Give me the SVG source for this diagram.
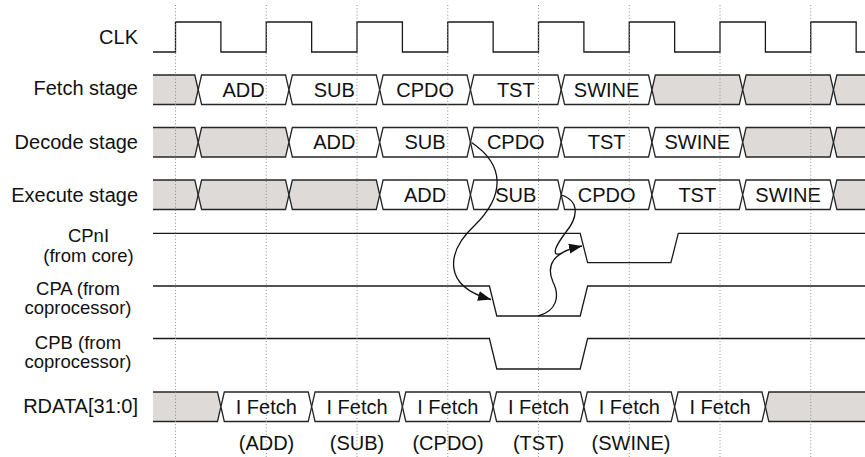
<svg xmlns="http://www.w3.org/2000/svg" xmlns:xlink="http://www.w3.org/1999/xlink" width="865" height="457" viewBox="0 0 865 457">
<style>
text{font-family:"Liberation Sans",Arial,sans-serif;font-size:20px;fill:#111}
.lbl{text-anchor:end}
.mid{text-anchor:middle}
.two{font-size:18.5px;text-anchor:middle}
.bus{stroke:#262626;stroke-width:1.3;stroke-linejoin:miter}
.g{fill:#dddad7}
.w{fill:#fff}
.sig{fill:none;stroke:#1a1a1a;stroke-width:1.3}
.dot{stroke:#8a8a8a;stroke-width:1;stroke-dasharray:1 2.2}
.con{fill:none;stroke:#111;stroke-width:1.3}
</style>
<defs>
<path id="seg" d="M0,0 L3.4,-14.75 L87.35,-14.75 L90.75,0 L87.35,14.75 L3.4,14.75 Z"/>
<marker id="ah" markerUnits="userSpaceOnUse" markerWidth="16" markerHeight="12" refX="13" refY="5" orient="auto">
<path d="M0,0 L13,5 L0,10 Z" fill="#111"/>
</marker>
</defs>
<rect width="865" height="457" fill="#fff"/>

<g id="labels">
<text class="lbl" x="138" y="44">CLK</text>
<text class="lbl" x="138" y="95">Fetch stage</text>
<text class="lbl" x="138" y="149">Decode stage</text>
<text class="lbl" x="138" y="202">Execute stage</text>
<text class="two" x="88.5" y="241.5">CPnI</text>
<text class="two" x="88.5" y="262">(from core)</text>
<text class="two" x="78" y="295">CPA (from</text>
<text class="two" x="78" y="314">coprocessor)</text>
<text class="two" x="78" y="349">CPB (from</text>
<text class="two" x="78" y="368">coprocessor)</text>
<text class="lbl" x="138" y="413">RDATA[31:0]</text>
</g>

<g id="clk">
<path class="sig" d="M153,52 H175.5 V22 H220.9 V52 H266.25 V22 H311.65 V52 H357 V22 H402.4 V52 H447.75 V22 H493.15 V52 H538.5 V22 H583.9 V52 H629.25 V22 H674.65 V52 H720 V22 H765.4 V52 H810.75 V22 H856.15 V52 H866"/>
</g>

<g id="fetch">
<path class="bus g" d="M153,75 L194.8,75 L198.2,89.75 L194.8,104.5 L153,104.5"/>
<use xlink:href="#seg" x="198.2" y="89.75" class="bus w"/>
<use xlink:href="#seg" x="288.95" y="89.75" class="bus w"/>
<use xlink:href="#seg" x="379.7" y="89.75" class="bus w"/>
<use xlink:href="#seg" x="470.45" y="89.75" class="bus w"/>
<use xlink:href="#seg" x="561.2" y="89.75" class="bus w"/>
<use xlink:href="#seg" x="651.95" y="89.75" class="bus g"/>
<use xlink:href="#seg" x="742.7" y="89.75" class="bus g"/>
<path class="bus g" d="M867,75 L836.85,75 L833.45,89.75 L836.85,104.5 L867,104.5"/>
<text class="mid" x="243.6" y="96.8">ADD</text>
<text class="mid" x="334.3" y="96.8">SUB</text>
<text class="mid" x="425.1" y="96.8">CPDO</text>
<text class="mid" x="515.8" y="96.8">TST</text>
<text class="mid" x="606.6" y="96.8">SWINE</text>
</g>

<g id="decode">
<path class="bus g" d="M153,127.5 L194.8,127.5 L198.2,142.25 L194.8,157 L153,157"/>
<use xlink:href="#seg" x="198.2" y="142.25" class="bus g"/>
<use xlink:href="#seg" x="288.95" y="142.25" class="bus w"/>
<use xlink:href="#seg" x="379.7" y="142.25" class="bus w"/>
<use xlink:href="#seg" x="470.45" y="142.25" class="bus w"/>
<use xlink:href="#seg" x="561.2" y="142.25" class="bus w"/>
<use xlink:href="#seg" x="651.95" y="142.25" class="bus w"/>
<use xlink:href="#seg" x="742.7" y="142.25" class="bus g"/>
<path class="bus g" d="M867,127.5 L836.85,127.5 L833.45,142.25 L836.85,157 L867,157"/>
<text class="mid" x="334.3" y="149.3">ADD</text>
<text class="mid" x="425.1" y="149.3">SUB</text>
<text class="mid" x="515.8" y="149.3">CPDO</text>
<text class="mid" x="606.6" y="149.3">TST</text>
<text class="mid" x="697.3" y="149.3">SWINE</text>
</g>

<g id="execute">
<path class="bus g" d="M153,180 L194.8,180 L198.2,194.75 L194.8,209.5 L153,209.5"/>
<use xlink:href="#seg" x="198.2" y="194.75" class="bus g"/>
<use xlink:href="#seg" x="288.95" y="194.75" class="bus g"/>
<use xlink:href="#seg" x="379.7" y="194.75" class="bus w"/>
<use xlink:href="#seg" x="470.45" y="194.75" class="bus w"/>
<use xlink:href="#seg" x="561.2" y="194.75" class="bus w"/>
<use xlink:href="#seg" x="651.95" y="194.75" class="bus w"/>
<use xlink:href="#seg" x="742.7" y="194.75" class="bus w"/>
<path class="bus g" d="M867,180 L836.85,180 L833.45,194.75 L836.85,209.5 L867,209.5"/>
<text class="mid" x="425.1" y="201.8">ADD</text>
<text class="mid" x="515.8" y="201.8">SUB</text>
<text class="mid" x="606.6" y="201.8">CPDO</text>
<text class="mid" x="697.3" y="201.8">TST</text>
<text class="mid" x="788.1" y="201.8">SWINE</text>
</g>

<g id="cpni">
<path class="sig" d="M153,233.3 H580.2 L587.6,262.7 H670.9 L678.3,233.3 H866"/>
</g>
<g id="cpa">
<path class="sig" d="M153,286 H489.4 L496.8,316 H580.2 L587.6,286 H866"/>
</g>
<g id="cpb">
<path class="sig" d="M153,338.5 H489.4 L496.8,369 H580.2 L587.6,338.5 H866"/>
</g>

<g id="rdata">
<path class="bus g" d="M153,392 L217.5,392 L220.9,406.75 L217.5,421.5 L153,421.5"/>
<use xlink:href="#seg" x="220.9" y="406.75" class="bus w"/>
<use xlink:href="#seg" x="311.65" y="406.75" class="bus w"/>
<use xlink:href="#seg" x="402.4" y="406.75" class="bus w"/>
<use xlink:href="#seg" x="493.15" y="406.75" class="bus w"/>
<use xlink:href="#seg" x="583.9" y="406.75" class="bus w"/>
<use xlink:href="#seg" x="674.65" y="406.75" class="bus w"/>
<path class="bus g" d="M867,392 L768.8,392 L765.4,406.75 L768.8,421.5 L867,421.5"/>
<text class="mid" x="266.3" y="413.8">I Fetch</text>
<text class="mid" x="357" y="413.8">I Fetch</text>
<text class="mid" x="447.8" y="413.8">I Fetch</text>
<text class="mid" x="538.5" y="413.8">I Fetch</text>
<text class="mid" x="629.3" y="413.8">I Fetch</text>
<text class="mid" x="720" y="413.8">I Fetch</text>
</g>

<g id="instr-labels">
<text class="mid" x="266.5" y="450">(ADD)</text>
<text class="mid" x="357" y="450">(SUB)</text>
<text class="mid" x="448" y="450">(CPDO)</text>
<text class="mid" x="538.5" y="450">(TST)</text>
<text class="mid" x="631" y="450">(SWINE)</text>
</g>

<g id="grid">
<line class="dot" x1="175.5" y1="5" x2="175.5" y2="457"/>
<line class="dot" x1="266.25" y1="5" x2="266.25" y2="457"/>
<line class="dot" x1="357" y1="5" x2="357" y2="457"/>
<line class="dot" x1="447.75" y1="5" x2="447.75" y2="457"/>
<line class="dot" x1="538.5" y1="5" x2="538.5" y2="457"/>
<line class="dot" x1="629.25" y1="5" x2="629.25" y2="457"/>
<line class="dot" x1="720" y1="5" x2="720" y2="457"/>
<line class="dot" x1="810.75" y1="5" x2="810.75" y2="457"/>
</g>

<g id="connectors">
<path class="con" d="M471.5,142.5 C505,165 505,195 475,225 C446,252 442,286 491,299.5" marker-end="url(#ah)"/>
<path class="con" d="M561.5,195 C582,202 576,220 566,232 C557,244 550,256 560,254"/>
<path class="con" d="M538,316 C557,311 560,296 553,282 C546,266 552,252 582,246" marker-end="url(#ah)"/>
</g>
</svg>
